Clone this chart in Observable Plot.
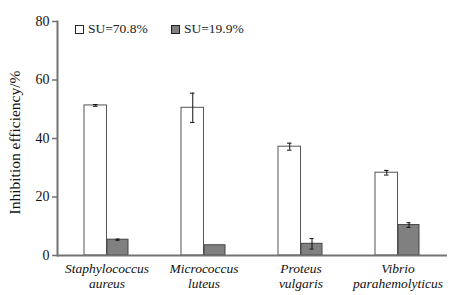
<!DOCTYPE html>
<html>
<head>
<meta charset="utf-8">
<script src="https://cdn.jsdelivr.net/npm/d3@7"></script>
<script src="https://cdn.jsdelivr.net/npm/@observablehq/plot@0.6"></script>
<style>
  body { margin: 0; background: #fff; }
  #wrap { position: relative; width: 470px; height: 295px; font-family: "Liberation Serif", serif; }
  #wrap svg, #wrap svg text { font-family: "Liberation Serif", serif !important; }
  .leg { position: absolute; top: 21px; font-size: 13.5px; color: #222; display: flex; align-items: center; white-space: nowrap; }
  .box { width: 9px; height: 9px; box-sizing: border-box; border: 1px solid #222; margin-right: 4px; }
</style>
</head>
<body>
<div id="wrap"></div>
<script>
const categories = ["Staphylococcus\naureus", "Micrococcus\nluteus", "Proteus\nvulgaris", "Vibrio\nparahemolyticus"];
const seriesNames = ["SU=70.8%", "SU=19.9%"];
const highSU = [51.3, 50.5, 37.2, 28.3];
const highErr = [0.3, 5.0, 1.2, 0.8];
const lowSU = [5.4, 3.5, 4.0, 10.4];
const lowErr = [0.2, 0, 1.8, 0.8];
const yTicks = [0, 20, 40, 60, 80];
const yLabel = "Inhibition efficiency/%";
const fills = ["#ffffff", "#808080"];

const high = categories.map((c, i) => ({category: c, value: highSU[i], err: highErr[i]}));
const low = categories.map((c, i) => ({category: c, value: lowSU[i], err: lowErr[i]}));

const axisColor = "#727272";
const serif = "Liberation Serif";

const plot = Plot.plot({
  width: 470,
  height: 295,
  marginLeft: 57,
  marginRight: 23,
  marginTop: 21,
  marginBottom: 40,
  style: {fontFamily: "Liberation Serif, serif", fontSize: "13px", color: "#111", background: "transparent"},
  x: {domain: categories, padding: 0},
  y: {domain: [0, 80]},
  marks: [
    Plot.barY(high, {x: "category", y: "value", fill: fills[0], stroke: "#555", strokeWidth: 1, insetLeft: 26, insetRight: 48.5}),
    Plot.barY(low, {x: "category", y: "value", fill: fills[1], stroke: "#444", strokeWidth: 1, insetLeft: 49, insetRight: 27}),
    Plot.ruleX(high.filter(d => d.err > 0), {x: "category", y1: d => d.value - d.err, y2: d => d.value + d.err, dx: -11.25, stroke: "#111", strokeWidth: 1}),
    Plot.ruleX(low.filter(d => d.err > 0), {x: "category", y1: d => d.value - d.err, y2: d => d.value + d.err, dx: 11, stroke: "#111", strokeWidth: 1}),
    Plot.tickY(high.filter(d => d.err > 0), {x: "category", y: d => d.value + d.err, insetLeft: 35, insetRight: 57.5, stroke: "#111"}),
    Plot.tickY(high.filter(d => d.err > 0), {x: "category", y: d => d.value - d.err, insetLeft: 35, insetRight: 57.5, stroke: "#111"}),
    Plot.tickY(low.filter(d => d.err > 0), {x: "category", y: d => d.value + d.err, insetLeft: 57.5, insetRight: 35.5, stroke: "#111"}),
    Plot.tickY(low.filter(d => d.err > 0), {x: "category", y: d => d.value - d.err, insetLeft: 57.5, insetRight: 35.5, stroke: "#111"}),
    Plot.axisY({ticks: yTicks, tickSize: 5, tickPadding: 3, stroke: axisColor, strokeWidth: 1.5, fontSize: 14, fontFamily: serif, label: null}),
    Plot.text([yLabel], {text: d => d, frameAnchor: "left", textAnchor: "middle", dx: -42, dy: 4, rotate: -90, fontSize: 15.5, fontFamily: serif, fill: "#111"}),
    Plot.axisX({tickSize: 0, tickPadding: 7, fontStyle: "italic", fontSize: 13.5, fontFamily: serif, lineHeight: 1.12, label: null}),
    Plot.frame({anchor: "left", stroke: axisColor, strokeWidth: 2}),
    Plot.ruleY([0], {stroke: axisColor, strokeWidth: 2})
  ]
});

const wrap = document.getElementById("wrap");
wrap.appendChild(plot);
const legendPos = [75, 171];
seriesNames.forEach((name, i) => {
  const el = document.createElement("div");
  el.className = "leg";
  el.style.left = legendPos[i] + "px";
  const b = document.createElement("div");
  b.className = "box";
  b.style.background = fills[i];
  el.appendChild(b);
  el.appendChild(document.createTextNode(name));
  wrap.appendChild(el);
});
</script>
</body>
</html>
